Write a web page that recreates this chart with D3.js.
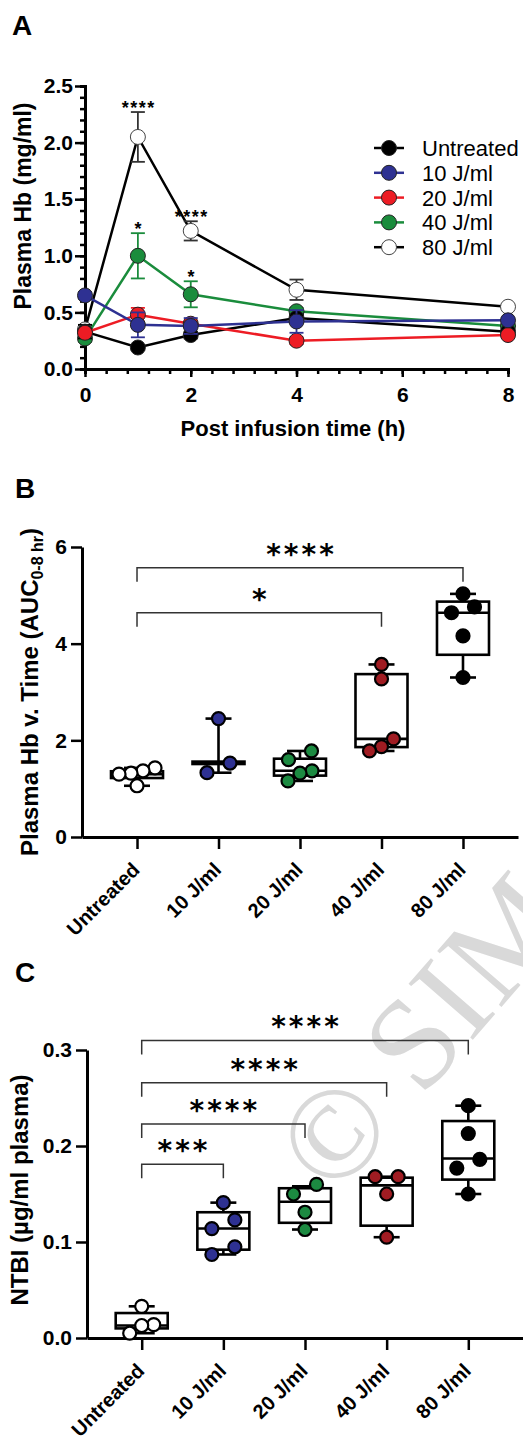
<!DOCTYPE html>
<html>
<head>
<meta charset="utf-8">
<script src="https://cdn.jsdelivr.net/npm/d3@7"></script>
<style>
  body { margin: 0; background: #fff; }
  svg { display: block; }
</style>
</head>
<body>
<script>
// ---- data ----
const times = [0, 1, 2, 4, 8]
const groups = ['Untreated', '10 J/ml', '20 J/ml', '40 J/ml', '80 J/ml']

// Panel A: plasma Hb (mg/ml), mean and error bar, one row per group
const hbMean = [
  [0.33, 0.19, 0.30, 0.45, 0.33],
  [0.65, 0.39, 0.38, 0.42, 0.43],
  [0.32, 0.48, 0.40, 0.25, 0.30],
  [0.27, 1.00, 0.66, 0.51, 0.38],
  [0.35, 2.05, 1.22, 0.70, 0.55]
]
const hbErr = [
  [0.06, 0.02, 0.03, 0.03, 0.02],
  [0.03, 0.11, 0.07, 0.10, 0.02],
  [0.02, 0.06, 0.03, 0.03, 0.02],
  [0.03, 0.20, 0.115, 0.03, 0.02],
  [0.03, 0.22, 0.085, 0.09, 0.02]
]
const hbStars = [
  { group: 4, time: 1, label: '****' },
  { group: 4, time: 2, label: '****' },
  { group: 3, time: 1, label: '*' },
  { group: 3, time: 2, label: '*' }
]

// Panel B: AUC 0-8 hr, single animals and box [min, q1, median, q3, max]
const aucPoints = [
  [1.43, 1.37, 1.32, 1.30, 1.06],
  [2.45, 1.53, 1.33],
  [1.78, 1.60, 1.37, 1.32, 1.16],
  [3.57, 3.27, 2.03, 1.87, 1.78],
  [5.03, 4.76, 4.64, 4.16, 3.30]
]
const aucBox = [
  [1.06, 1.22, 1.30, 1.36, 1.43],
  [1.33, 1.51, 1.53, 1.56, 2.45],
  [1.16, 1.27, 1.37, 1.62, 1.78],
  [1.78, 1.86, 2.03, 3.37, 3.57],
  [3.30, 3.77, 4.64, 4.87, 5.03]
]
const aucSig = [
  { from: 0, to: 4, label: '****', at: 5.57 },
  { from: 0, to: 3, label: '*', at: 4.64 }
]

// Panel C: NTBI (ug/ml plasma)
const ntbiPoints = [
  [0.033, 0.014, 0.013, 0.005],
  [0.141, 0.123, 0.114, 0.095, 0.087],
  [0.160, 0.150, 0.131, 0.113],
  [0.168, 0.168, 0.150, 0.105],
  [0.242, 0.213, 0.186, 0.177, 0.150]
]
const ntbiBox = [
  [0.005, 0.010, 0.013, 0.026, 0.033],
  [0.087, 0.092, 0.114, 0.131, 0.141],
  [0.113, 0.120, 0.142, 0.156, 0.158],
  [0.105, 0.117, 0.159, 0.167, 0.168],
  [0.150, 0.165, 0.187, 0.226, 0.242]
]
const ntbiSig = [
  { from: 0, to: 4, label: '****', at: 0.310 },
  { from: 0, to: 3, label: '****', at: 0.266 },
  { from: 0, to: 2, label: '****', at: 0.223 },
  { from: 0, to: 1, label: '***', at: 0.181 }
]

// ---- styles ----
const FONT = "'Liberation Sans', Arial, sans-serif"
const lineColors = ['#000000', '#2e3192', '#ed1c24', '#1a8c3c', '#000000']
const markFill = ['#000000', '#2e3192', '#ed1c24', '#1a8c3c', '#ffffff']
const dotFill = ['#ffffff', '#2e3192', '#1c8a41', '#a01c22', '#000000']

const W = 523, H = 1441
const svg = d3.select('body').append('svg')
  .attr('width', W).attr('height', H)
  .style('background', '#fff')

// faint watermark behind everything (it runs off the right edge, as in the source)
const wm = svg.append('g').attr('transform', 'translate(334,1134) rotate(-49)')
wm.append('text')
  .attr('x', -49).attr('y', 43)
  .attr('font-family', "'Liberation Serif', 'DejaVu Serif', serif")
  .attr('font-size', 130)
  .attr('letter-spacing', 1)
  .attr('fill', '#d9d9d9')
  .text('\u00a9 SIM')

const styleAxis = g => {
  g.attr('font-family', FONT).attr('font-size', 21).attr('font-weight', 'bold')
  g.select('.domain').attr('stroke', '#000').attr('stroke-width', 3)
  g.selectAll('.tick line').attr('stroke', '#000').attr('stroke-width', 2.5)
  g.selectAll('.tick text').attr('fill', '#000')
}

const panelLetter = (txt, x, y) => {
  svg.append('text').attr('x', x).attr('y', y)
    .attr('font-family', FONT).attr('font-weight', 'bold').attr('font-size', 28)
    .text(txt)
}

const yTitle = (content, x, y, size) => {
  const t = svg.append('text')
    .attr('transform', `translate(${x},${y}) rotate(-90)`)
    .attr('text-anchor', 'middle')
    .attr('font-family', FONT).attr('font-weight', 'bold').attr('font-size', size)
  content(t)
  return t
}

// ================= Panel A =================
panelLetter('A', 12, 35)

const xA = d3.scaleLinear().domain([0, 8]).range([85, 508])
const yA = d3.scaleLinear().domain([0, 2.5]).range([369, 86])

// minor ticks
svg.append('g').attr('transform', 'translate(85,0)')
  .call(d3.axisLeft(yA).tickValues(d3.range(0, 2.51, 0.1)).tickSize(5).tickFormat(''))
  .call(styleAxis)
svg.append('g').attr('transform', 'translate(0,369)')
  .call(d3.axisBottom(xA).tickValues(d3.range(0, 8.01, 0.4)).tickSize(5).tickFormat(''))
  .call(styleAxis)

svg.append('g').attr('transform', 'translate(85,0)')
  .call(d3.axisLeft(yA).tickValues([0, 0.5, 1, 1.5, 2, 2.5]).tickFormat(d3.format('.1f'))
    .tickSize(10).tickSizeOuter(0).tickPadding(2))
  .call(styleAxis)
svg.append('g').attr('transform', 'translate(0,369)')
  .call(d3.axisBottom(xA).tickValues([0, 2, 4, 6, 8]).tickSize(8).tickSizeOuter(0).tickPadding(10))
  .call(styleAxis)

svg.append('text').attr('x', 293).attr('y', 436).attr('text-anchor', 'middle')
  .attr('font-family', FONT).attr('font-weight', 'bold').attr('font-size', 22)
  .text('Post infusion time (h)')
yTitle(t => t.text('Plasma Hb (mg/ml)'), 31, 206, 23)

const lineA = d3.line().x((d, i) => xA(times[i])).y(d => yA(d))
const drawOrder = [4, 3, 0, 2, 1]
drawOrder.forEach(gi => {
  const g = svg.append('g')
  const col = lineColors[gi]
  g.append('path').datum(hbMean[gi])
    .attr('d', lineA).attr('fill', 'none')
    .attr('stroke', col).attr('stroke-width', 2.5)
  const ebCol = gi === 4 ? '#333' : col
  hbMean[gi].forEach((m, i) => {
    const e = hbErr[gi][i]
    const cx = xA(times[i])
    g.append('line').attr('x1', cx).attr('x2', cx)
      .attr('y1', yA(m - e)).attr('y2', yA(m + e))
      .attr('stroke', ebCol).attr('stroke-width', 1.8)
    ;[m - e, m + e].forEach(v => {
      g.append('line').attr('x1', cx - 7).attr('x2', cx + 7)
        .attr('y1', yA(v)).attr('y2', yA(v))
        .attr('stroke', ebCol).attr('stroke-width', 1.8)
    })
  })
  g.selectAll('circle').data(hbMean[gi]).join('circle')
    .attr('cx', (d, i) => xA(times[i])).attr('cy', d => yA(d))
    .attr('r', 7.5)
    .attr('fill', markFill[gi])
    .attr('stroke', gi === 4 ? '#444' : '#222').attr('stroke-width', 1)
})

hbStars.forEach(s => {
  const i = times.indexOf(s.time)
  const top = hbMean[s.group][i] + hbErr[s.group][i]
  svg.append('text')
    .attr('x', xA(s.time) + 1).attr('y', yA(top) + 2)
    .attr('text-anchor', 'middle')
    .attr('font-family', FONT).attr('font-weight', 'bold').attr('font-size', 18)
    .attr('letter-spacing', 1.5)
    .text(s.label)
})

// legend
groups.forEach((name, gi) => {
  const ly = 148 + gi * 24.8
  const g = svg.append('g')
  g.append('line').attr('x1', 374).attr('x2', 404).attr('y1', ly).attr('y2', ly)
    .attr('stroke', lineColors[gi]).attr('stroke-width', 2.5)
  g.append('circle').attr('cx', 389).attr('cy', ly).attr('r', 7.5)
    .attr('fill', markFill[gi]).attr('stroke', gi === 4 ? '#444' : '#222').attr('stroke-width', 1)
  g.append('text').attr('x', 422).attr('y', ly + 8)
    .attr('font-family', FONT).attr('font-size', 22)
    .text(name)
})

// ================= box panels =================
// spread points that sit at nearly the same height
const dodge = (values, y, thresh = 11) => {
  const sorted = values.slice().sort((a, b) => b - a)
  const rows = []
  sorted.forEach(v => {
    const last = rows[rows.length - 1]
    if (last && Math.abs(y(last[last.length - 1]) - y(v)) < thresh) last.push(v)
    else rows.push([v])
  })
  const out = []
  rows.forEach(row => {
    const step = row.length === 2 ? 23 : 12
    row.forEach((v, i) => out.push({ v, dx: ((row.length - 1) / 2 - i) * step }))
  })
  return out
}

const boxPanel = (x, y, points, boxes, sig, axisY, yTicks, yFmt) => {
  const x0 = x.range()[0]
  svg.append('g').attr('transform', `translate(${x0},0)`)
    .call(d3.axisLeft(y).tickValues(yTicks).tickFormat(yFmt)
      .tickSize(11).tickSizeOuter(0).tickPadding(4))
    .call(styleAxis)
  svg.append('g').attr('transform', `translate(0,${axisY})`)
    .call(d3.axisBottom(x).tickSize(12).tickSizeOuter(0).tickFormat(''))
    .call(styleAxis)

  groups.forEach((name, gi) => {
    svg.append('text')
      .attr('transform', `translate(${x(name) + 4},${axisY + 34}) rotate(-45)`)
      .attr('text-anchor', 'end')
      .attr('font-family', FONT).attr('font-weight', 'bold').attr('font-size', 20)
      .text(name)
  })

  const hw = 26, cw = 13
  groups.forEach((name, gi) => {
    const cx = x(name)
    const [mn, q1, md, q3, mx] = boxes[gi]
    const g = svg.append('g').attr('stroke', '#000').attr('stroke-width', 2.6).attr('fill', 'none')
    g.append('rect').attr('x', cx - hw).attr('y', y(q3))
      .attr('width', hw * 2).attr('height', y(q1) - y(q3))
    g.append('line').attr('x1', cx - hw).attr('x2', cx + hw).attr('y1', y(md)).attr('y2', y(md))
    g.append('line').attr('x1', cx).attr('x2', cx).attr('y1', y(q3)).attr('y2', y(mx))
    g.append('line').attr('x1', cx).attr('x2', cx).attr('y1', y(q1)).attr('y2', y(mn))
    ;[mn, mx].forEach(v => {
      g.append('line').attr('x1', cx - cw).attr('x2', cx + cw).attr('y1', y(v)).attr('y2', y(v))
    })
    svg.append('g').selectAll('circle')
      .data(dodge(points[gi], y))
      .join('circle')
      .attr('cx', d => cx + d.dx).attr('cy', d => y(d.v)).attr('r', 6.5)
      .attr('fill', dotFill[gi]).attr('stroke', '#000').attr('stroke-width', 2.2)
  })

  sig.forEach(s => {
    const xa = x(groups[s.from]), xb = x(groups[s.to]), yb = y(s.at)
    svg.append('path')
      .attr('d', `M${xa},${yb + 14}V${yb}H${xb}V${yb + 14}`)
      .attr('fill', 'none').attr('stroke', '#333').attr('stroke-width', 1.5)
    svg.append('text')
      .attr('x', (xa + xb) / 2 + 1.5).attr('y', yb - 4)
      .attr('text-anchor', 'middle')
      .attr('font-family', "'DejaVu Sans', sans-serif").attr('font-weight', 'bold')
      .attr('font-size', 28).attr('letter-spacing', 3)
      .text(s.label)
  })
}

// ================= Panel B =================
panelLetter('B', 15, 498)
const xB = d3.scalePoint().domain(groups).range([82, 518]).padding(0.675)
const yB = d3.scaleLinear().domain([0, 6]).range([837, 547])
boxPanel(xB, yB, aucPoints, aucBox, aucSig, 837, [0, 2, 4, 6], d3.format('d'))
yTitle(t => {
  t.append('tspan').text('Plasma Hb v. Time (AUC')
  t.append('tspan').attr('font-size', 16).attr('dy', 5).text('0-8 hr')
  t.append('tspan').attr('dy', -5).text(')')
}, 38, 692, 24)

// ================= Panel C =================
panelLetter('C', 15, 982)
const xC = d3.scalePoint().domain(groups).range([87, 523]).padding(0.67)
const yC = d3.scaleLinear().domain([0, 0.3]).range([1338, 1050])
boxPanel(xC, yC, ntbiPoints, ntbiBox, ntbiSig, 1338, [0, 0.1, 0.2, 0.3], d3.format('.1f'))
yTitle(t => t.text('NTBI (\u00b5g/ml plasma)'), 28, 1190, 24)
</script>
</body>
</html>
